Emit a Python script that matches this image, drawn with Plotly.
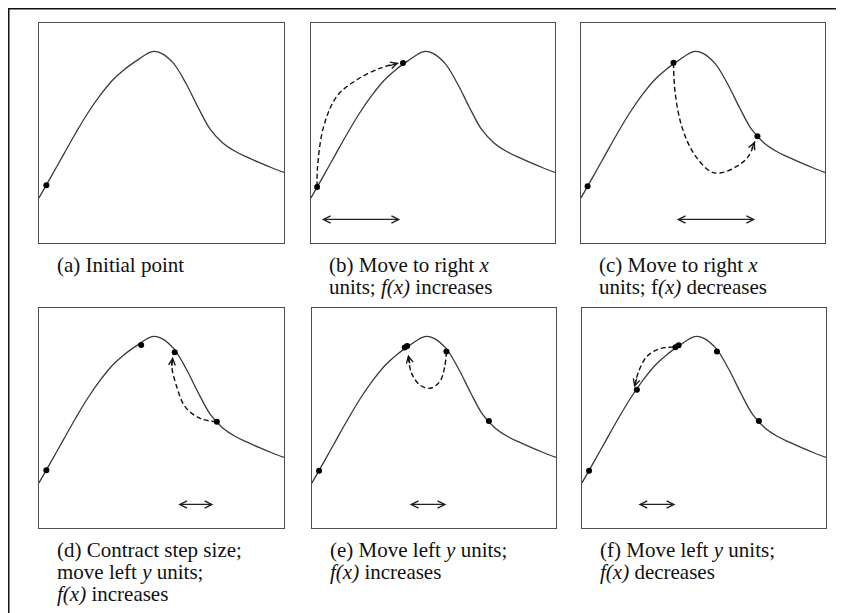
import plotly.graph_objects as go

# ---------------- data (x and y on a 0-10 scale inside each panel) ----------------
CURVE_X = [0, 0.5, 1.0, 1.5, 2.0, 2.5, 3.0, 3.5, 4.0, 4.5, 4.7, 5.0, 5.5, 6.0, 6.5,
           7.0, 7.5, 8.0, 8.5, 9.0, 9.5, 10]
CURVE_Y = [2.05, 3.03, 4.02, 5.00, 5.92, 6.72, 7.40, 7.90, 8.30, 8.65, 8.71, 8.62, 8.15,
           7.25, 6.15, 5.15, 4.55, 4.17, 3.90, 3.65, 3.42, 3.21]

DOTS_X = {
    "a": [0.30],
    "b": [0.25, 3.77],
    "c": [0.27, 3.79, 7.23],
    "d": [0.30, 4.17, 5.54, 7.26],
    "e": [0.29, 3.80, 3.90, 5.51, 7.25],
    "f": [0.29, 2.25, 3.83, 3.96, 5.53, 7.25],
}
DOTS_Y = {
    "a": [2.62],
    "b": [2.55, 8.18],
    "c": [2.58, 8.19, 4.85],
    "d": [2.62, 8.32, 7.99, 4.83],
    "e": [2.60, 8.20, 8.27, 8.02, 4.86],
    "f": [2.60, 6.28, 8.22, 8.31, 8.02, 4.86],
}

ARC_X = {
    "b": [0.25, 0.27, 0.52, 1.06, 1.88, 2.84, 3.59],
    "c": [3.79, 3.86, 4.13, 4.61, 5.29, 5.70, 6.38, 6.86, 7.13],
    "d": [7.26, 6.58, 5.96, 5.62, 5.42, 5.46],
    "e": [5.51, 5.44, 5.24, 4.83, 4.42, 4.08, 3.94],
    "f": [3.76, 3.21, 2.66, 2.32, 2.14],
}
ARC_Y = {
    "b": [2.55, 3.48, 5.30, 6.67, 7.42, 7.95, 8.18],
    "c": [8.19, 6.82, 5.30, 4.09, 3.26, 3.18, 3.48, 3.94, 4.62],
    "d": [4.83, 4.98, 5.52, 6.43, 7.34, 7.77],
    "e": [8.02, 7.34, 6.66, 6.35, 6.50, 7.04, 7.87],
    "f": [8.22, 8.16, 7.80, 7.11, 6.40],
}

STEP_START = {"b": 0.38, "c": 3.86, "d": 5.62, "e": 3.94, "f": 2.25}
STEP_END = {"b": 3.66, "c": 7.14, "d": 7.12, "e": 5.51, "f": 3.83}
STEP_Y = 1.07

CAPTIONS = {
    "a": ["(a) Initial point"],
    "b": ["(b) Move to right <i>x</i>", "units; <i>f(x)</i> increases"],
    "c": ["(c) Move to right <i>x</i>", "units; f<i>(x)</i> decreases"],
    "d": ["(d) Contract step size;", "move left <i>y</i> units;", "<i>f(x)</i> increases"],
    "e": ["(e) Move left <i>y</i> units;", "<i>f(x)</i> increases"],
    "f": ["(f) Move left <i>y</i> units;", "<i>f(x)</i> decreases"],
}

# ---------------- layout (page pixels; page has an 8px body margin) ----------------
OFF = 8
W, H = 844 - OFF, 613 - OFF
PANELS = ["a", "b", "c", "d", "e", "f"]
BOX = {  # left, top, right, bottom in page px
    "a": (39, 23, 284, 243),
    "b": (311, 23, 555, 243),
    "c": (581, 23, 825, 243),
    "d": (39, 308, 284, 528),
    "e": (312, 308, 556, 528),
    "f": (582, 308, 826, 528),
}
# arrow-head tail offsets in px (direction of travel at end of dashed arc)
HEAD_OFF = {"b": (-10, 3), "c": (-4, 9), "d": (-1, 10), "e": (2, 10), "f": (3, -10)}


def px(xp):
    return (xp - OFF) / W


def py(yp):
    return 1 - (yp - OFF) / H


FONT = "Liberation Serif, Times New Roman, serif"
FS = 21
LINE_GAP = 22

fig = go.Figure()
annotations = []
layout_axes = {}

for i, p in enumerate(PANELS):
    n = "" if i == 0 else str(i + 1)
    xa, ya = "x" + n, "y" + n
    l, t, r, b = BOX[p]
    axis_style = dict(range=[0, 10], showgrid=False, zeroline=False, showticklabels=False,
                      ticks="", showline=True, mirror=True, linecolor="#4d4d4d",
                      linewidth=1.3, fixedrange=True)
    layout_axes["xaxis" + n] = dict(domain=[px(l), px(r)], anchor=ya, **axis_style)
    layout_axes["yaxis" + n] = dict(domain=[py(b), py(t)], anchor=xa, **axis_style)

    fig.add_trace(go.Scatter(
        x=CURVE_X, y=CURVE_Y, mode="lines", xaxis=xa, yaxis=ya,
        line=dict(color="#3a3a3a", width=1.3, shape="spline", smoothing=1.0),
        hoverinfo="skip", showlegend=False))

    if p in ARC_X:
        fig.add_trace(go.Scatter(
            x=ARC_X[p], y=ARC_Y[p], mode="lines", xaxis=xa, yaxis=ya,
            line=dict(color="#111111", width=1.4, dash="5px,3px", shape="spline", smoothing=1.0),
            hoverinfo="skip", showlegend=False))
        ox, oy = HEAD_OFF[p]
        annotations.append(dict(
            x=ARC_X[p][-1], y=ARC_Y[p][-1], xref=xa, yref=ya,
            ax=ox, ay=oy, showarrow=True, arrowhead=5, arrowsize=1.1,
            arrowwidth=1.2, arrowcolor="#111111", text=""))
        annotations.append(dict(
            x=STEP_END[p], y=STEP_Y, xref=xa, yref=ya,
            ax=STEP_START[p], ay=STEP_Y, axref=xa, ayref=ya,
            showarrow=True, arrowside="end+start", arrowhead=5, startarrowhead=5,
            arrowsize=1.1, startarrowsize=1.1, arrowwidth=1.3,
            arrowcolor="#222222", text=""))

    fig.add_trace(go.Scatter(
        x=DOTS_X[p], y=DOTS_Y[p], mode="markers", xaxis=xa, yaxis=ya,
        marker=dict(color="#000000", size=6),
        hoverinfo="skip", showlegend=False, cliponaxis=False))

    for k, line in enumerate(CAPTIONS[p]):
        ypx = b + 22 + k * LINE_GAP
        annotations.append(dict(
            x=px(l + 16), y=py(ypx), xref="paper", yref="paper",
            xanchor="left", yanchor="middle", showarrow=False, text=line,
            font=dict(family=FONT, size=FS, color="#111111")))

shapes = [dict(type="rect", xref="paper", yref="paper",
               x0=px(8.75), x1=px(870), y0=py(640), y1=py(8.75),
               line=dict(color="#111111", width=1.5))]

fig.update_layout(
    width=W, height=H, margin=dict(l=0, r=0, t=0, b=0),
    paper_bgcolor="white", plot_bgcolor="white",
    annotations=annotations, shapes=shapes, **layout_axes)

fig.write_html("out.html", config={"displayModeBar": False})
